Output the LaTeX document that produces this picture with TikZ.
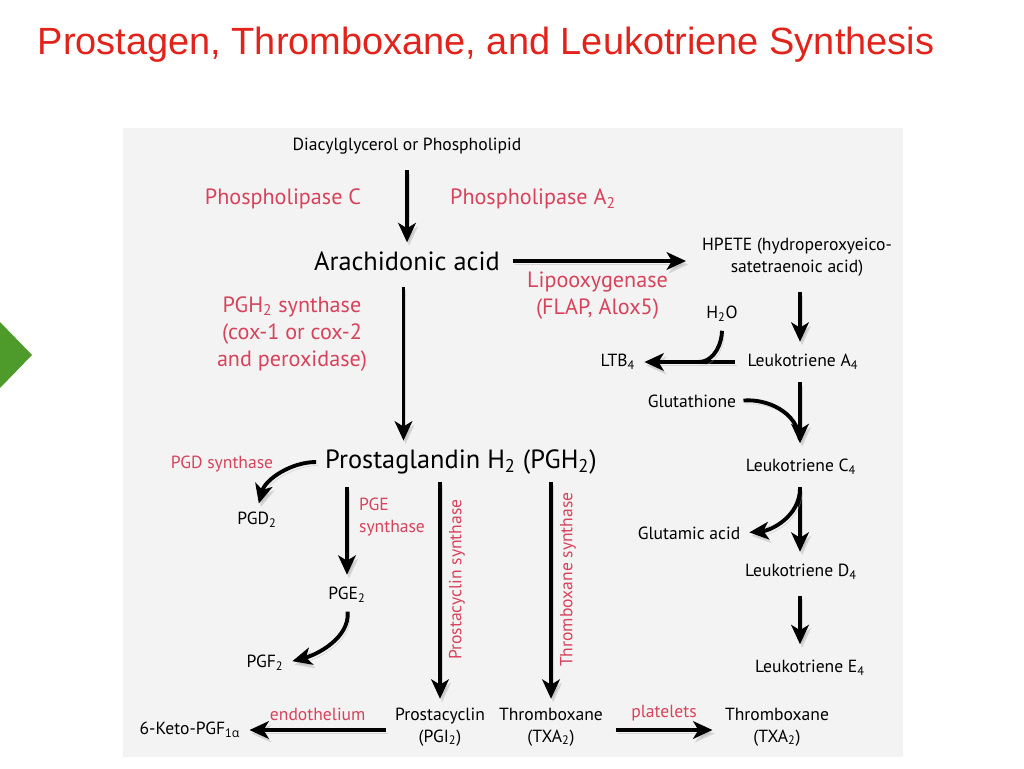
\documentclass[tikz,border=0pt]{standalone}
\usepackage{fontspec}
\setmainfont{PT Sans}
\newfontfamily\titlefont{Liberation Sans}
\newfontfamily\greekfont{Open Sans}
\usetikzlibrary{arrows.meta}
\definecolor{Enzyme}{HTML}{D6435B}
\definecolor{Heading}{HTML}{E2231B}
\definecolor{Panel}{HTML}{F3F3F3}
\definecolor{Marker}{HTML}{4E9A2B}
\tikzset{
  compound/.style={font=\fontsize{10}{12.5}\selectfont,align=center,inner sep=1pt,text=black},
  main compound/.style={font=\fontsize{15}{18}\selectfont,inner sep=1pt,text=black},
  enzyme/.style={font=\fontsize{12.6}{15.5}\selectfont,text=Enzyme,align=center,inner sep=1pt},
  small enzyme/.style={font=\fontsize{10}{12.5}\selectfont,text=Enzyme,align=center,inner sep=1pt},
  path arrow/.style={-{Stealth[length=11pt,width=10pt,inset=3pt]},line width=2.2pt,
    preaction={draw=black!30,opacity=.45,transform canvas={shift={(1.2pt,-2pt)}}}},
  plain line/.style={line width=2.2pt,
    preaction={draw=black!30,opacity=.45,transform canvas={shift={(1.2pt,-2pt)}}}}
}

\begin{document}
\begin{tikzpicture}[x=0.02cm,y=-0.02cm]
  \useasboundingbox (0,0) rectangle (1024,768);
  \fill[Panel] (123,128) rectangle (903,757);
  \fill[Marker] (0,322) -- (32,355) -- (0,388) -- cycle;
  \node[font=\titlefont\fontsize{21.6}{24}\selectfont,text=Heading] (title) at (486,45) {Prostagen, Thromboxane, and Leukotriene Synthesis};
  % prostaglandin branch
  \node[compound] (dag) at (407,146) {Diacylglycerol or Phospholipid};
  \node[main compound] (ara) at (407,261) {Arachidonic acid};
  \node[enzyme] (plc) at (283,199) {Phospholipase C};
  \node[enzyme] (pla) at (533,199) {Phospholipase A\textsubscript{2}};
  \node[enzyme] (cox) at (292,334) {PGH\textsubscript{2} synthase\\(cox-1 or cox-2\\and peroxidase)};
  \node[main compound] (pgh) at (461,462) {Prostaglandin H\textsubscript{2} (PGH\textsubscript{2})};
  \node[small enzyme] (pgds) at (222,464) {PGD synthase};
  \node[compound] (pgd) at (257,520) {PGD\textsubscript{2}};
  \node[small enzyme,anchor=west,align=left] (pges) at (357,517) {PGE\\synthase};
  \node[compound] (pge) at (347,595) {PGE\textsubscript{2}};
  \node[compound] (pgf) at (265,663) {PGF\textsubscript{2}};
  \node[compound] (pgi) at (440,727) {Prostacyclin\\(PGI\textsubscript{2})};
  \node[compound] (txa) at (551,727) {Thromboxane\\(TXA\textsubscript{2})};
  \node[compound] (txb) at (777,727) {Thromboxane\\(TXA\textsubscript{2})};
  \node[compound] (keto) at (190,730) {6-Keto-PGF\textsubscript{1{\greekfont α}}};
  % leukotriene branch
  \node[compound] (hpete) at (797,257) {HPETE (hydroperoxyeico-\\satetraenoic acid)};
  \node[compound] (h2o) at (722,314) {H\textsubscript{2}O};
  \node[compound] (lta) at (803,362) {Leukotriene A\textsubscript{4}};
  \node[compound] (ltb) at (618,362) {LTB\textsubscript{4}};
  \node[compound] (gsh) at (692,401) {Glutathione};
  \node[compound] (ltc) at (801,467) {Leukotriene C\textsubscript{4}};
  \node[compound] (glu) at (689,533) {Glutamic acid};
  \node[compound] (ltd) at (801,572) {Leukotriene D\textsubscript{4}};
  \node[compound] (lte) at (810,668) {Leukotriene E\textsubscript{4}};
  \coordinate (wjoin) at (698,362);
  \coordinate (gjoin) at (800,440);
  \coordinate (ujoin) at (800,488);

  \draw[path arrow,shorten <=8pt,shorten >=4pt] (dag.south -| ara.north) -- (ara.north);
  \draw[path arrow,shorten <=6pt,shorten >=4pt] (ara.east) --
    node[enzyme,below=4pt]{Lipooxygenase\\(FLAP, Alox5)} ([xshift=-4pt]hpete.west |- ara.east);
  \draw[path arrow,shorten <=8pt,shorten >=4pt] ([xshift=-2pt]ara.south) -- ([xshift=-2pt]ara.south |- pgh.north);
  \draw[path arrow,shorten <=4pt,shorten >=4pt] (pgh.west) to[out=180,in=75] (pgd.north);
  \draw[path arrow,shorten <=6pt,shorten >=6pt] (pgh.south -| pge.north) -- (pge.north);
  \draw[path arrow,shorten <=4pt,shorten >=4pt] (pge.south) to[out=-85,in=15] (pgf.east);
  \draw[path arrow,shorten <=3pt,shorten >=4pt] (pgh.south -| pgi.north) --
    node[small enzyme,pos=.45,anchor=north,rotate=90,inner sep=4pt]{Prostacyclin synthase} (pgi.north);
  \draw[path arrow,shorten <=3pt,shorten >=4pt] (pgh.south -| txa.north) --
    node[small enzyme,pos=.45,anchor=north,rotate=90,inner sep=4pt]{Thromboxane synthase} (txa.north);
  \draw[path arrow,shorten <=4pt,shorten >=4pt] (pgi.west |- keto.east) --
    node[small enzyme,above=3pt]{endothelium} (keto.east);
  \draw[path arrow,shorten <=6pt,shorten >=6pt] (txa.east |- keto.east) --
    node[small enzyme,above=3pt]{platelets} (txb.west |- keto.east);

  \draw[path arrow,shorten <=8pt,shorten >=6pt] (hpete.south -| gjoin) -- (lta.north -| gjoin);
  \draw[path arrow,shorten <=6pt,shorten >=4pt] (lta.west) -- (ltb.east);
  \draw[plain line,shorten <=4pt] (h2o.south) to[out=-90,in=0] (wjoin);
  \draw[path arrow,shorten <=6pt,shorten >=8pt] (lta.south -| gjoin) -- (ltc.north -| gjoin);
  \draw[plain line,shorten <=3pt] (gsh.east) to[out=5,in=95] (gjoin);
  \draw[path arrow,shorten <=6pt,shorten >=6pt] (ltc.south -| gjoin) -- (ltd.north -| gjoin);
  \draw[path arrow,shorten >=4pt] (ujoin) to[out=-90,in=5] (glu.east);
  \draw[path arrow,shorten <=8pt,shorten >=8pt] (ltd.south -| gjoin) -- (lte.north -| gjoin);
\end{tikzpicture}
\end{document}
